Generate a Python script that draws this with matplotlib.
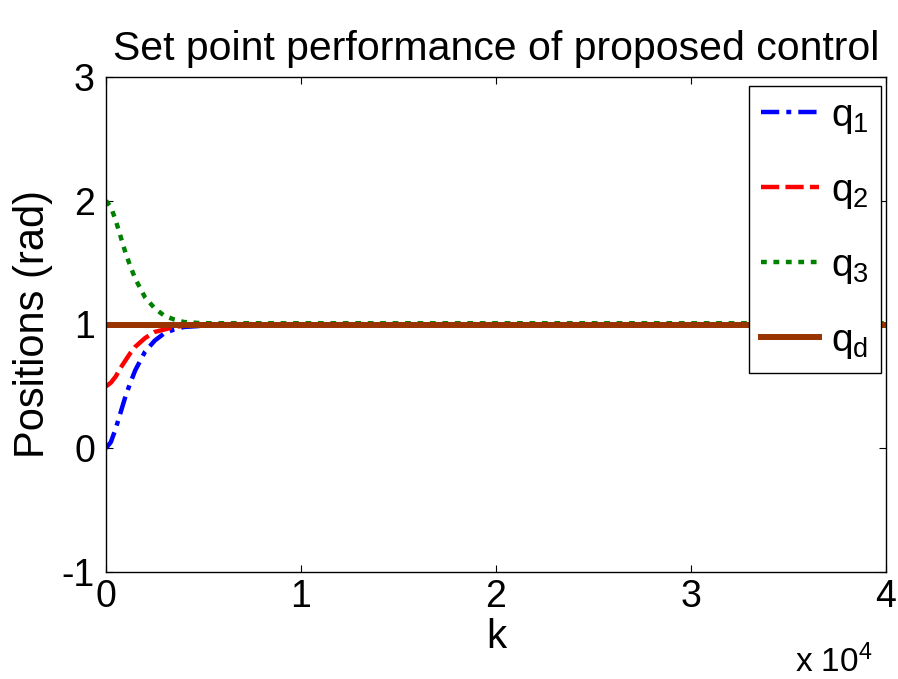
import matplotlib
matplotlib.use('Agg')
import matplotlib.pyplot as plt
import numpy as np

# sample instants and joint positions (rad)
k = [0, 250, 500, 750, 1000, 1250, 1500, 2000, 2500, 3000, 3500, 4000, 5000, 6000, 40000]
q1 = [0.00, 0.05, 0.16, 0.29, 0.42, 0.53, 0.63, 0.78, 0.87, 0.93, 0.96, 0.98, 0.99, 1.00, 1.00]
q2 = [0.50, 0.53, 0.58, 0.65, 0.71, 0.77, 0.82, 0.89, 0.94, 0.96, 0.98, 0.99, 1.00, 1.00, 1.00]
q3 = [2.00, 1.95, 1.84, 1.71, 1.58, 1.47, 1.37, 1.22, 1.13, 1.07, 1.04, 1.02, 1.01, 1.01, 1.01]
qd_k = [0, 40000]
qd = [1.0, 1.0]

plt.rcParams['font.family'] = ['Liberation Sans', 'DejaVu Sans']
plt.rcParams['mathtext.fontset'] = 'custom'
plt.rcParams['mathtext.rm'] = 'Liberation Sans'
plt.rcParams['mathtext.it'] = 'Liberation Sans'

fig = plt.figure(figsize=(8.98, 6.79), dpi=100)
ax = fig.add_axes([106/898, 1 - 572/679, (886 - 106)/898, (572 - 77)/679])

ax.plot(k, q1, color='#0000ff', lw=3.2, dashes=(4.1, 1.6, 1.1, 1.6), label='$\\mathregular{q_1}$')
ax.plot(k, q2, color='#ff0000', lw=3.2, dashes=(4.1, 1.4), label='$\\mathregular{q_2}$')
ax.plot(k, q3, color='#008000', lw=3.2, dashes=(1.3, 1.5), label='$\\mathregular{q_3}$')
ax.plot(qd_k, qd, color='#993300', lw=4.3, label='$\\mathregular{q_d}$')

ax.set_xlim(0, 40000)
ax.set_ylim(-1, 3)
ax.set_xticks([0, 10000, 20000, 30000, 40000])
ax.set_xticklabels(['0', '1', '2', '3', '4'], fontsize=27)
ax.set_yticks([-1, 0, 1, 2, 3])
ax.set_yticklabels(['-1', '0', '1', '2', '3'], fontsize=27)
ax.tick_params(direction='in', length=5, width=0.8, top=True, right=True)
ax.tick_params(axis='x', pad=5)
ax.tick_params(axis='y', pad=8)
for s in ax.spines.values():
    s.set_linewidth(1.0)

ax.set_title('Set point performance of proposed control', fontsize=29.5, pad=12)
ax.set_xlabel('k', fontsize=29, labelpad=2)
ax.set_ylabel('Positions (rad)', fontsize=30, labelpad=6)
fig.text(795/898, 1 - 662/679, 'x 10$^{\\mathregular{4}}$', fontsize=24, va='center')

leg = ax.legend(loc='center', fontsize=28, frameon=True, fancybox=False,
                edgecolor='black', framealpha=1, handlelength=1.5, labelspacing=0.95,
                borderpad=0.3, borderaxespad=0, handletextpad=0.3,
                bbox_to_anchor=(752/898, 1 - 373/679, (878 - 752)/898, (373 - 86)/679),
                bbox_transform=fig.transFigure)
leg.get_frame().set_linewidth(1.0)

fig.savefig('out.png', dpi=100)
